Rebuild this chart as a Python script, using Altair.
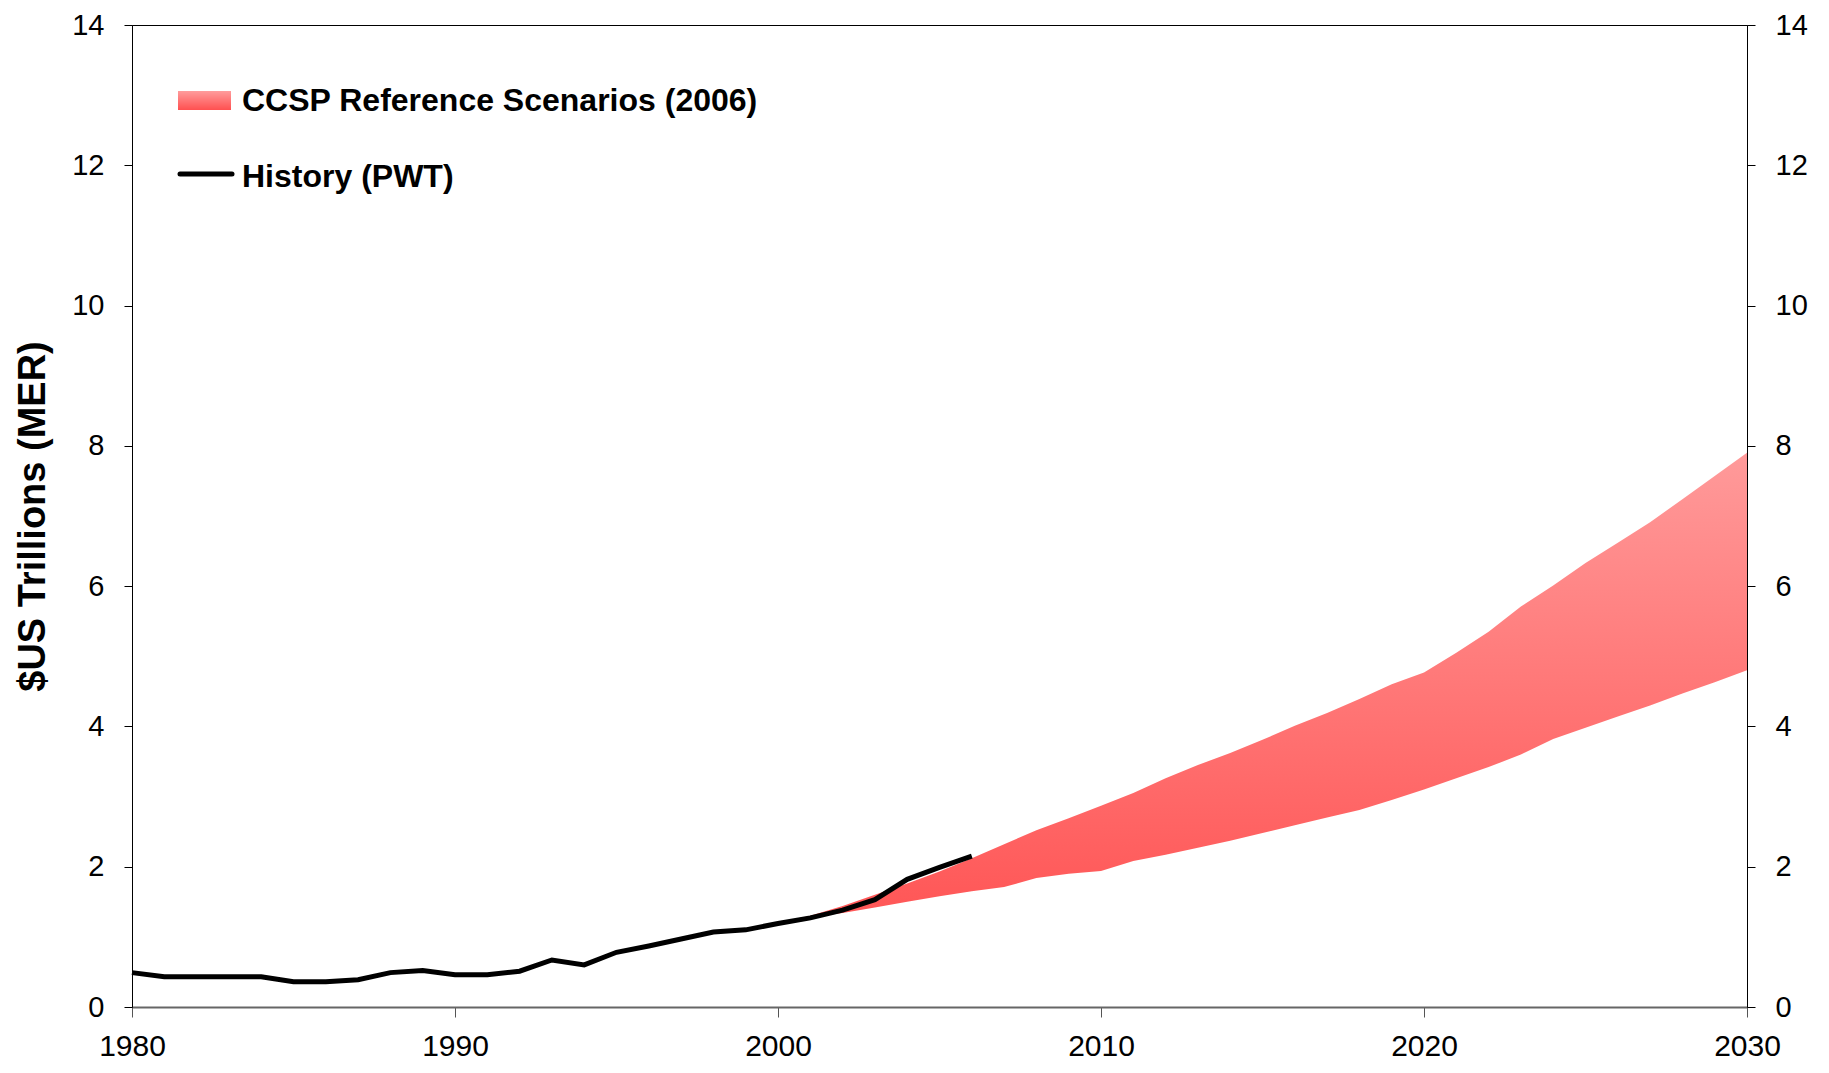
import altair as alt
import pandas as pd

hist_years = list(range(1980, 2007))
hist_values = [0.49, 0.43, 0.43, 0.43, 0.43, 0.36, 0.36, 0.39, 0.49, 0.52,
               0.46, 0.46, 0.51, 0.67, 0.60, 0.78, 0.87, 0.97, 1.07, 1.10,
               1.19, 1.27, 1.38, 1.53, 1.82, 1.99, 2.15]

band_years = list(range(2000, 2031))
band_lower = [1.20, 1.28, 1.34, 1.42, 1.50, 1.58, 1.65, 1.71, 1.84, 1.90,
              1.94, 2.08, 2.17, 2.27, 2.37, 2.48, 2.59, 2.70, 2.81, 2.95,
              3.10, 3.26, 3.42, 3.60, 3.82, 3.98, 4.14, 4.30, 4.47, 4.63, 4.80]
band_upper = [1.20, 1.30, 1.44, 1.60, 1.76, 1.93, 2.12, 2.32, 2.52, 2.69,
              2.87, 3.05, 3.26, 3.45, 3.62, 3.81, 4.01, 4.19, 4.39, 4.60,
              4.77, 5.05, 5.35, 5.71, 6.01, 6.33, 6.62, 6.91, 7.24, 7.57, 7.90]

x_ticks = [1980, 1990, 2000, 2010, 2020, 2030]
y_ticks = [0, 2, 4, 6, 8, 10, 12, 14]
legend_labels = ["CCSP Reference Scenarios (2006)", "History (PWT)"]
y_title = "$US Trillions (MER)"

FONT = "Liberation Sans"
W, H = 1615, 982

hist_df = pd.DataFrame({"year": hist_years, "value": hist_values})
band_df = pd.DataFrame({"year": band_years, "lower": band_lower, "upper": band_upper})
one = pd.DataFrame({"k": [0]})

x_scale = alt.Scale(domain=[1980, 2030], nice=False, zero=False)
y_scale = alt.Scale(domain=[0, 14], nice=False)

x_axis = alt.Axis(values=x_ticks, format="d", title=None, labelFont=FONT,
                  labelFontSize=30, labelColor="black", tickColor="#555",
                  tickSize=10, labelPadding=14, domainColor="#666",
                  domainWidth=2, grid=False, labelFlush=False)

band_fill = alt.Gradient(
    gradient="linear",
    stops=[alt.GradientStop(color="#ff9a9a", offset=0),
           alt.GradientStop(color="#ff5555", offset=1)],
    x1=1, x2=1, y1=0, y2=1)

area = alt.Chart(band_df).mark_area(color=band_fill, opacity=1).encode(
    x=alt.X("year:Q", scale=x_scale, axis=x_axis),
    y=alt.Y("lower:Q", scale=y_scale,
            axis=alt.Axis(orient="right", values=y_ticks, title=None,
                          labelFont=FONT, labelFontSize=29, labelColor="black",
                          tickColor="black", tickSize=8, labelPadding=20,
                          domainColor="black", grid=False)),
    y2="upper:Q",
)

line = alt.Chart(hist_df).mark_line(color="black", strokeWidth=5,
                                     strokeJoin="miter").encode(
    x=alt.X("year:Q", scale=x_scale, axis=x_axis),
    y=alt.Y("value:Q", scale=y_scale,
            axis=alt.Axis(orient="left", values=y_ticks, title=y_title,
                          labelFont=FONT, labelFontSize=29, labelColor="black",
                          tickColor="black", tickSize=8, labelPadding=20,
                          domainColor="black", grid=False,
                          titleFont=FONT, titleFontSize=38,
                          titleFontWeight="bold", titleColor="black",
                          titleAngle=270, titleAlign="center",
                          titleBaseline="middle", titleX=-99, titleY=H / 2)),
)

legend_fill = alt.Gradient(
    gradient="linear",
    stops=[alt.GradientStop(color="#ff9c9c", offset=0),
           alt.GradientStop(color="#ff5050", offset=1)],
    x1=1, x2=1, y1=0, y2=1)

leg_rect = alt.Chart(one).mark_rect(color=legend_fill).encode(
    x=alt.value(46), x2=alt.value(99), y=alt.value(66), y2=alt.value(85))
leg_line = alt.Chart(one).mark_rule(color="black", strokeWidth=5,
                                    strokeCap="round").encode(
    x=alt.value(48), x2=alt.value(100), y=alt.value(149))
leg_text1 = alt.Chart(one).mark_text(
    align="left", baseline="middle", font=FONT, fontSize=32,
    fontWeight="bold", color="black", text=legend_labels[0]).encode(
    x=alt.value(110), y=alt.value(76))
leg_text2 = alt.Chart(one).mark_text(
    align="left", baseline="middle", font=FONT, fontSize=32,
    fontWeight="bold", color="black", text=legend_labels[1]).encode(
    x=alt.value(110), y=alt.value(152))

chart = alt.layer(area, line, leg_rect, leg_line, leg_text1, leg_text2).resolve_axis(
    y="independent"
).properties(
    width=W, height=H,
    autosize=alt.AutoSizeParams(type="none"),
    padding={"left": 124, "top": 17, "right": 74, "bottom": 58},
    background="white",
).configure_view(stroke="black", strokeWidth=1)

chart.save("out.html", embed_options={"renderer": "svg", "actions": False})
